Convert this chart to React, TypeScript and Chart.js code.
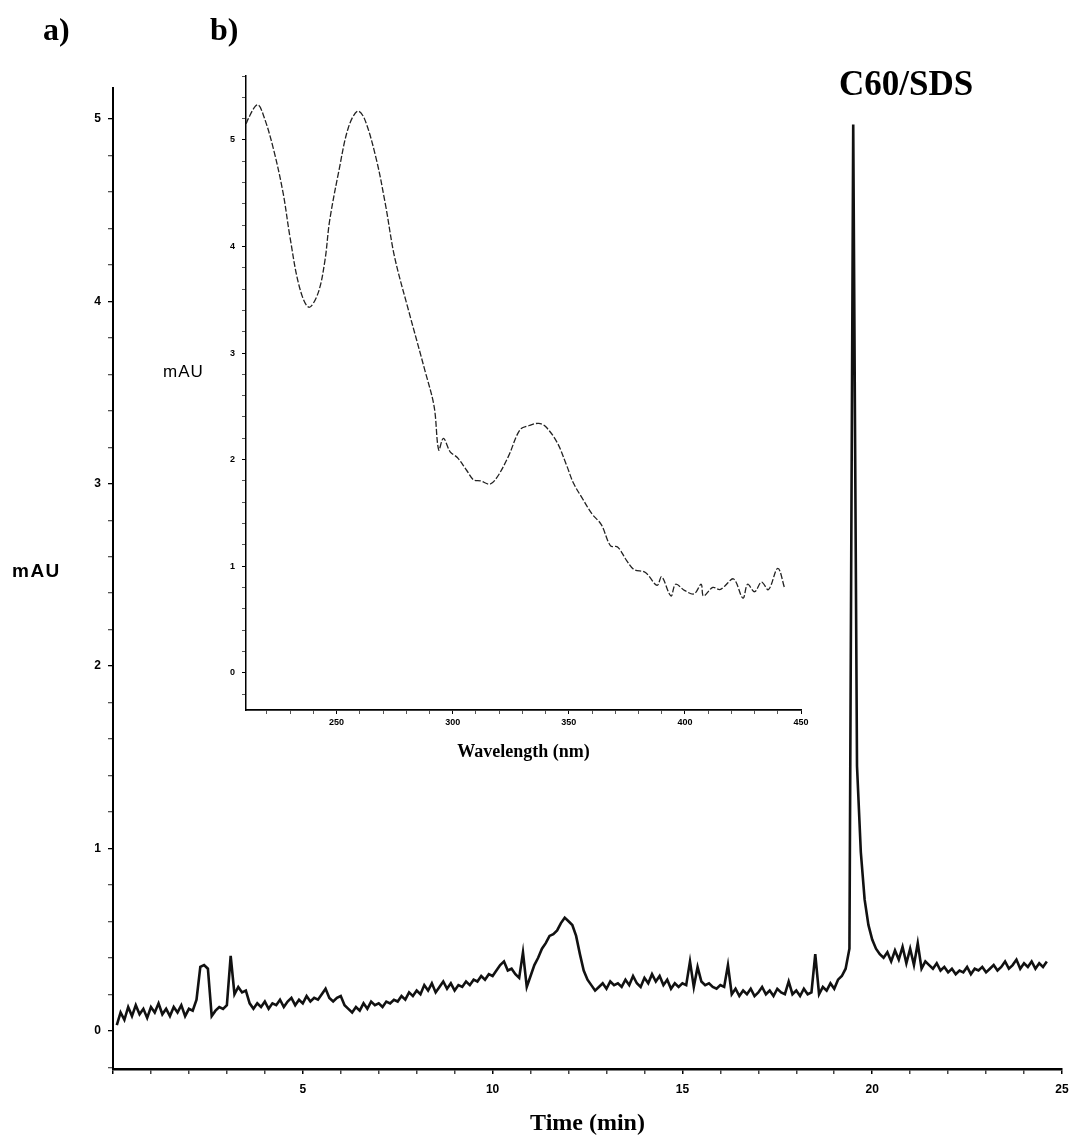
import React, { useEffect, useRef } from "react";
import { Chart, registerables } from "chart.js";

Chart.register(...registerables);

// ---------- Main chromatogram (a) ----------
const TIME_START = 0.1; // min
const TIME_STEP = 0.1; // min
const mainSignal: number[] = [
  0.03, 0.10, 0.06, 0.13, 0.08, 0.14, 0.09, 0.12, 0.07, 0.13,
  0.10, 0.15, 0.09, 0.12, 0.08, 0.13, 0.10, 0.14, 0.08, 0.12,
  0.11, 0.17, 0.35, 0.36, 0.34, 0.08, 0.11, 0.13, 0.12, 0.14,
  0.41, 0.20, 0.24, 0.21, 0.22, 0.15, 0.12, 0.15, 0.13, 0.16,
  0.12, 0.15, 0.14, 0.17, 0.13, 0.16, 0.18, 0.14, 0.17, 0.15,
  0.19, 0.16, 0.18, 0.17, 0.20, 0.23, 0.18, 0.16, 0.18, 0.19,
  0.14, 0.12, 0.10, 0.13, 0.11, 0.15, 0.12, 0.16, 0.14, 0.15,
  0.13, 0.16, 0.15, 0.17, 0.16, 0.19, 0.17, 0.21, 0.19, 0.22,
  0.20, 0.25, 0.22, 0.26, 0.21, 0.24, 0.27, 0.23, 0.26, 0.22,
  0.25, 0.24, 0.27, 0.25, 0.28, 0.27, 0.30, 0.28, 0.31, 0.30,
  0.33, 0.36, 0.38, 0.33, 0.34, 0.31, 0.29, 0.43, 0.24, 0.30,
  0.36, 0.40, 0.45, 0.48, 0.52, 0.53, 0.55, 0.59, 0.62, 0.60,
  0.58, 0.52, 0.42, 0.33, 0.28, 0.25, 0.22, 0.24, 0.26, 0.23,
  0.27, 0.25, 0.26, 0.24, 0.28, 0.25, 0.30, 0.26, 0.24, 0.29,
  0.26, 0.31, 0.27, 0.30, 0.25, 0.28, 0.23, 0.26, 0.24, 0.26,
  0.25, 0.38, 0.24, 0.35, 0.27, 0.25, 0.26, 0.24, 0.23, 0.25,
  0.24, 0.36, 0.20, 0.23, 0.19, 0.22, 0.20, 0.23, 0.19, 0.21,
  0.24, 0.20, 0.22, 0.19, 0.23, 0.21, 0.20, 0.27, 0.20, 0.22,
  0.19, 0.23, 0.20, 0.21, 0.42, 0.20, 0.24, 0.22, 0.26, 0.23,
  0.28, 0.30, 0.34, 0.45, 4.97, 1.45, 0.98, 0.72, 0.58, 0.50,
  0.45, 0.42, 0.40, 0.43, 0.38, 0.44, 0.39, 0.46, 0.37, 0.45,
  0.36, 0.48, 0.34, 0.38, 0.36, 0.34, 0.37, 0.33, 0.35, 0.32,
  0.34, 0.31, 0.33, 0.32, 0.35, 0.31, 0.34, 0.33, 0.35, 0.32,
  0.34, 0.36, 0.33, 0.35, 0.38, 0.34, 0.36, 0.39, 0.34, 0.37,
  0.35, 0.38, 0.34, 0.37, 0.35, 0.38,
];
const mainXMin = 0;
const mainXMax = 25;
const mainYMin = -0.21;
const mainYMax = 5.17;

// ---------- Inset UV spectrum (b) ----------
const wavelengths: number[] = [
  210, 212, 216, 219, 223, 227, 230, 234, 238, 242,
  245, 247, 251, 255, 259, 262, 267, 271, 275, 281,
  288, 292, 294, 296, 299, 302, 306, 309, 312, 316,
  319, 324, 329, 333, 337, 340, 345, 349, 352, 356,
  360, 364, 368, 371, 375, 378, 383, 388, 390, 394,
  396, 400, 404, 407, 408, 412, 415, 417, 421, 425,
  427, 430, 433, 436, 440, 443,
];
const absorbance: number[] = [
  5.08, 5.2, 5.33, 5.2, 4.9, 4.5, 4.08, 3.62, 3.43, 3.56,
  3.87, 4.24, 4.71, 5.11, 5.27, 5.2, 4.83, 4.4, 3.9, 3.4,
  2.84, 2.5, 2.09, 2.2, 2.07, 2.02, 1.9, 1.81, 1.8, 1.77,
  1.83, 2.03, 2.28, 2.32, 2.34, 2.31, 2.16, 1.95, 1.78, 1.63,
  1.49, 1.39, 1.19, 1.18, 1.05, 0.97, 0.94, 0.82, 0.9, 0.72,
  0.83, 0.77, 0.74, 0.83, 0.72, 0.8, 0.78, 0.81, 0.88, 0.7,
  0.83, 0.76, 0.85, 0.78, 0.98, 0.79,
];
const insetXMin = 211;
const insetXMax = 450;
const insetYMin = -0.35;
const insetYMax = 5.6;

const isWhole = (v: number, m: number) => Math.abs(v / m - Math.round(v / m)) < 1e-6;

const SANS = "'Liberation Sans', Arial, sans-serif";
const SERIF = "'Liberation Serif', 'Times New Roman', serif";

function MainChart() {
  const ref = useRef<HTMLCanvasElement>(null);
  useEffect(() => {
    const points = mainSignal.map((y, i) => ({ x: +(TIME_START + i * TIME_STEP).toFixed(2), y }));
    const chart = new Chart(ref.current!, {
      type: "line",
      data: {
        datasets: [
          {
            data: points,
            borderColor: "#111",
            borderWidth: 2.6,
            pointRadius: 0,
            tension: 0,
            fill: false,
          },
        ],
      },
      options: {
        animation: false,
        responsive: false,
        events: [],
        layout: { padding: { left: 0, right: 8, top: 88, bottom: 0 } },
        plugins: { legend: { display: false }, tooltip: { enabled: false } },
        scales: {
          x: {
            type: "linear",
            min: mainXMin,
            max: mainXMax,
            afterFit: (s: any) => {
              s.height = 69;
              s.paddingLeft = 0;
              s.paddingRight = 0;
            },
            border: { display: true, color: "#000", width: 2.5 },
            grid: {
              drawOnChartArea: false,
              drawTicks: true,
              tickLength: 5,
              color: (c: any) => (c.tick && isWhole(c.tick.value, 5) ? "#000" : "#444"),
              lineWidth: 1.5,
            },
            ticks: {
              stepSize: 1,
              includeBounds: false,
              autoSkip: false,
              maxRotation: 0,
              padding: 8,
              color: "#000",
              font: { family: SANS, size: 12, weight: "bold" },
              callback: (v: any) => (v !== 0 && isWhole(v, 5) ? String(Math.round(v)) : ""),
            },
            title: {
              display: true,
              text: "Time (min)",
              color: "#000",
              font: { family: SERIF, size: 24, weight: "bold" },
              padding: { top: 0, bottom: 0 },
            },
          },
          y: {
            type: "linear",
            min: mainYMin,
            max: mainYMax,
            afterFit: (s: any) => { s.width = 113; },
            border: { display: true, color: "#000", width: 2 },
            grid: {
              drawOnChartArea: false,
              drawTicks: true,
              tickLength: 5,
              color: (c: any) => (c.tick && isWhole(c.tick.value, 1) ? "#000" : "#555"),
              lineWidth: 1.3,
            },
            ticks: {
              stepSize: 0.2,
              includeBounds: false,
              autoSkip: false,
              padding: 7,
              color: "#000",
              font: { family: SANS, size: 12, weight: "bold" },
              callback: (v: any) => (isWhole(v, 1) ? String(Math.round(v)) : ""),
            },
          },
        },
      },
    });
    return () => chart.destroy();
  }, []);
  return (
    <canvas
      ref={ref}
      width={1070}
      height={1138}
      style={{ position: "absolute", left: 0, top: 0, width: 1070, height: 1138 }}
    />
  );
}

function InsetChart() {
  const ref = useRef<HTMLCanvasElement>(null);
  useEffect(() => {
    const points = wavelengths.map((x, i) => ({ x, y: absorbance[i] }));
    const chart = new Chart(ref.current!, {
      type: "line",
      data: {
        datasets: [
          {
            data: points,
            borderColor: "#222",
            borderWidth: 1.3,
            borderDash: [6, 2],
            pointRadius: 0,
            tension: 0.35,
            fill: false,
          },
        ],
      },
      options: {
        animation: false,
        responsive: false,
        events: [],
        layout: { padding: { left: 0, right: 29, top: 16, bottom: 0 } },
        plugins: { legend: { display: false }, tooltip: { enabled: false } },
        scales: {
          x: {
            type: "linear",
            min: insetXMin,
            max: insetXMax,
            afterFit: (s: any) => { s.height = 70; },
            border: { display: true, color: "#000", width: 1.8 },
            grid: {
              drawOnChartArea: false,
              drawTicks: true,
              tickLength: 4,
              color: (c: any) => (c.tick && isWhole(c.tick.value, 50) ? "#000" : "#555"),
              lineWidth: 1,
            },
            ticks: {
              stepSize: 10,
              includeBounds: false,
              autoSkip: false,
              maxRotation: 0,
              padding: 3,
              color: "#000",
              font: { family: SANS, size: 9, weight: "bold" },
              callback: (v: any) => (isWhole(v, 50) ? String(Math.round(v)) : ""),
            },
            title: {
              display: true,
              text: "Wavelength (nm)",
              color: "#000",
              font: { family: SERIF, size: 18, weight: "bold" },
              padding: { top: 0, bottom: 17 },
            },
          },
          y: {
            type: "linear",
            min: insetYMin,
            max: insetYMax,
            afterFit: (s: any) => { s.width = 96; },
            border: { display: true, color: "#000", width: 1.5 },
            grid: {
              drawOnChartArea: false,
              drawTicks: true,
              tickLength: 4,
              color: (c: any) => (c.tick && isWhole(c.tick.value, 1) ? "#000" : "#555"),
              lineWidth: 1,
            },
            ticks: {
              stepSize: 0.2,
              includeBounds: false,
              autoSkip: false,
              padding: 7,
              color: "#000",
              font: { family: SANS, size: 9, weight: "bold" },
              callback: (v: any) => (isWhole(v, 1) ? String(Math.round(v)) : ""),
            },
          },
        },
      },
    });
    return () => chart.destroy();
  }, []);
  return (
    <canvas
      ref={ref}
      width={680}
      height={720}
      style={{ position: "absolute", left: 150, top: 60, width: 680, height: 720 }}
    />
  );
}

const label = (
  text: string,
  left: number,
  top: number,
  size: number,
  family: string,
  weight: string,
  extra: React.CSSProperties = {}
) => (
  <div
    style={{
      position: "absolute",
      left,
      top,
      fontSize: size,
      lineHeight: `${size}px`,
      fontFamily: family,
      fontWeight: weight as any,
      color: "#000",
      whiteSpace: "nowrap",
      ...extra,
    }}
  >
    {text}
  </div>
);

export default function App() {
  return (
    <div
      style={{
        position: "absolute",
        left: 0,
        top: 0,
        width: 1070,
        height: 1138,
        background: "#fff",
        overflow: "hidden",
      }}
    >
      <MainChart />
      <InsetChart />
      {label("a)", 43, 13, 32, SERIF, "bold")}
      {label("b)", 210, 13, 32, SERIF, "bold")}
      {label("C60/SDS", 839, 66, 35, SERIF, "bold")}
      {label("mAU", 12, 561, 19, SANS, "bold", { letterSpacing: 1.5 })}
      {label("mAU", 163, 363, 17, SANS, "normal", { letterSpacing: 1 })}
    </div>
  );
}
